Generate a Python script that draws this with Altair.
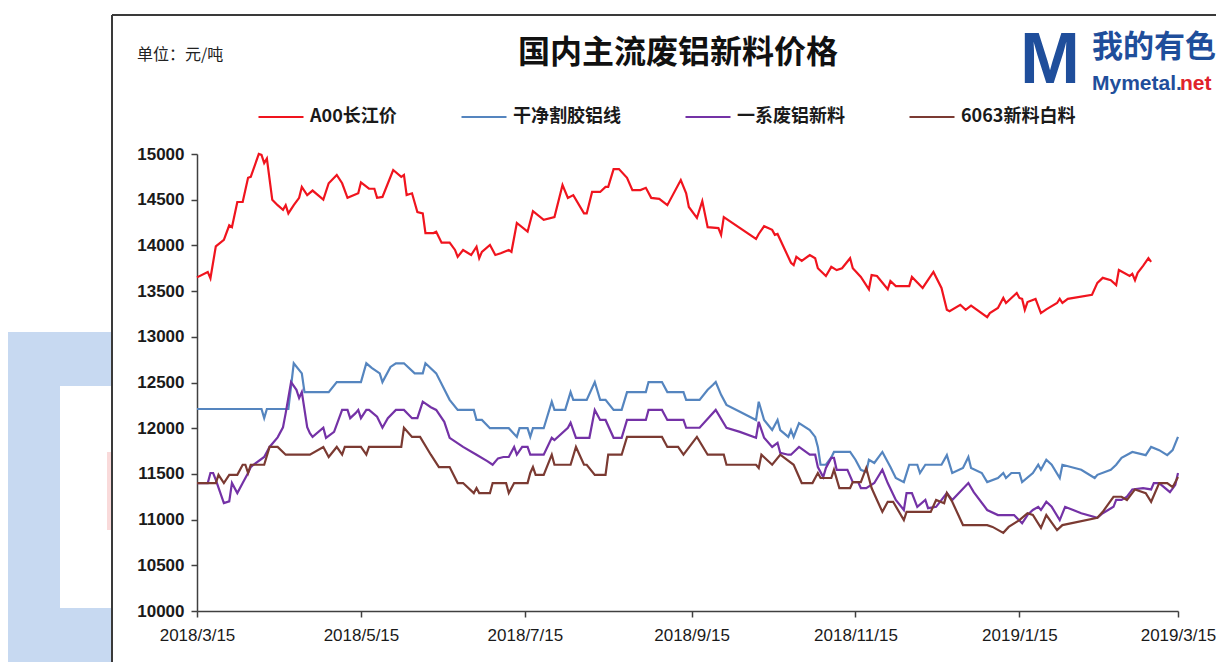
import altair as alt
import pandas as pd

# ---------------- data ----------------
series_names = ["A00长江价", "干净割胶铝线", "一系废铝新料", "6063新料白料"]
series_colors = ["#F0141E", "#5585BF", "#7432A6", "#7B3A32"]
start_date = "2018-03-15"
end_date = "2019-03-15"
x_tick_dates = ["2018-03-15", "2018-05-15", "2018-07-15", "2018-09-15",
                "2018-11-15", "2019-01-15", "2019-03-15"]
y_ticks = [10000, 10500, 11000, 11500, 12000, 12500, 13000, 13500, 14000, 14500, 15000]

# day offsets from 2018-03-15 and prices (元/吨)
a00_days = [0,4,5,7,10,12,13,15,17,19,20,23,24,25,26,28,30,32,33,34,36,38,39,41,43,47,49,52,54,56,
            60,61,64,66,67,69,73,76,77,78,80,82,84,85,88,89,91,94,96,97,99,102,104,105,106,109,111,113,116,117,
            119,123,125,129,133,136,138,140,144,145,147,150,152,153,155,157,160,162,165,167,169,172,175,180,182,183,186,188,190,194,
            195,196,208,209,211,214,215,216,221,222,223,225,228,230,231,234,236,238,240,243,244,247,250,251,253,257,258,260,265,266,
            270,274,277,279,280,284,286,288,294,295,298,300,301,305,306,307,308,309,312,314,316,320,321,322,324,333,335,337,340,342,
            343,347,348,349,350,352,354,355]
a00_vals = [13650,13710,13640,13990,14060,14220,14200,14475,14475,14740,14750,15000,14990,14900,14950,14500,14440,14390,14440,14350,
            14440,14520,14640,14550,14600,14500,14680,14770,14680,14520,14570,14690,14620,14620,14520,14530,14825,14750,14770,14550,
            14570,14365,14350,14135,14135,14150,14030,14030,13950,13875,13950,13895,13985,13860,13930,14005,13895,13915,13950,13930,
            14245,14150,14375,14280,14310,14660,14520,14550,14350,14350,14585,14585,14640,14640,14835,14835,14740,14605,14605,14630,
            14520,14510,14440,14715,14570,14420,14300,14485,14200,14190,14115,14310,14070,14125,14210,14170,14115,14125,13810,13785,
            13875,13830,13895,13860,13750,13665,13765,13730,13750,13860,13750,13655,13520,13675,13665,13520,13610,13555,13555,13655,
            13535,13710,13535,13295,13280,13350,13295,13340,13215,13260,13315,13425,13370,13480,13425,13415,13295,13380,13415,13260,
            13300,13370,13415,13370,13415,13460,13590,13645,13620,13565,13730,13665,13690,13620,13700,13775,13860,13820]

blue_days = [0,24,25,26,34,36,39,40,49,52,61,63,65,68,69,72,74,77,81,84,85,89,94,97,103,104,106,109,116,119,
             120,123,124,125,129,132,133,137,139,140,145,148,150,152,155,158,160,167,168,173,175,181,182,187,190,192,193,195,197,202,
             208,209,211,214,216,217,220,221,222,224,228,230,231,232,234,236,237,243,245,247,249,250,252,255,258,260,263,265,268,269,
             271,277,279,281,285,287,288,292,294,298,300,301,303,306,307,311,313,314,316,318,321,322,329,334,335,340,342,344,348,353,
             355,358,361,363,365]
blue_vals = [12210,12210,12110,12210,12210,12710,12600,12395,12395,12505,12505,12710,12660,12600,12505,12670,12710,12710,12600,12600,
             12710,12600,12310,12200,12200,12090,12090,12000,12000,11905,12000,12000,11905,12000,12000,12290,12200,12200,12395,12310,
             12310,12505,12310,12310,12200,12200,12395,12395,12505,12505,12395,12395,12310,12310,12420,12475,12505,12365,12255,12180,
             12090,12290,12090,11980,12090,11980,11905,11980,11905,12055,11980,11905,11795,11600,11600,11680,11740,11740,11655,11545,
             11520,11655,11620,11740,11575,11455,11410,11600,11600,11510,11600,11600,11705,11510,11565,11685,11565,11510,11410,11455,
             11510,11455,11510,11510,11410,11510,11600,11545,11655,11600,11455,11600,11545,11455,11490,11545,11600,11675,11740,11705,
             11795,11760,11705,11760,11905]

purple_days = [0,4,5,6,7,10,12,13,15,17,19,20,21,25,27,30,32,33,35,37,38,39,41,42,43,47,48,51,54,56,
               57,59,60,61,63,64,67,69,71,74,77,80,82,84,87,89,92,94,99,104,108,110,112,114,116,118,119,121,123,124,
               129,132,133,138,139,141,146,148,150,152,155,158,160,167,168,173,175,181,182,187,193,197,202,208,209,211,214,216,217,220,
               221,224,228,230,231,233,234,236,237,238,242,244,246,247,249,252,255,257,260,263,264,266,268,271,272,275,279,281,287,289,
               294,298,304,307,309,311,313,314,316,318,321,323,329,335,337,341,342,344,346,348,352,355,356,358,362,364,365]
purple_vals = [11400,11400,11510,11510,11435,11180,11200,11400,11290,11400,11510,11575,11600,11685,11795,11900,12010,12165,12505,12420,
               12330,12395,12010,11945,11905,12005,11895,11960,12200,12200,12110,12165,12200,12110,12200,12200,12125,12005,12110,12200,
               12200,12110,12110,12290,12230,12200,12070,11895,11795,11710,11640,11600,11670,11685,11685,11795,11710,11795,11795,11710,
               11710,11895,11870,12005,12060,11895,11895,12200,12090,12090,11895,11895,12090,12090,12200,12200,12090,12090,12005,12005,
               12200,12005,11960,11895,12070,11895,11795,11840,11730,11710,11710,11795,11710,11710,11575,11465,11565,11675,11675,11545,
               11545,11410,11410,11345,11345,11400,11545,11400,11215,11105,11290,11290,11140,11215,11125,11140,11290,11215,11400,11300,
               11105,11050,11050,10960,11050,11105,11140,11105,11195,11140,10995,11140,11070,11020,11070,11140,11215,11215,11250,11330,
               11345,11330,11400,11400,11300,11380,11510]

brown_days = [0,7,8,10,12,15,17,18,19,20,25,27,30,33,42,47,49,52,54,55,61,63,64,76,77,80,83,87,90,94,
              97,99,103,104,105,109,110,115,116,118,123,124,125,126,129,132,133,139,141,144,145,148,152,153,158,160,173,175,179,181,
              186,190,196,197,208,209,210,214,217,222,225,229,231,232,236,237,239,243,244,247,249,251,253,255,257,259,263,264,273,275,
              278,279,281,285,294,296,300,302,306,309,311,314,316,320,322,335,337,341,344,346,349,353,355,358,361,363,365]
brown_vals = [11400,11400,11490,11400,11490,11490,11600,11600,11510,11600,11600,11795,11795,11710,11710,11795,11685,11795,11710,11795,
              11795,11710,11795,11795,12005,11905,11905,11710,11575,11575,11400,11400,11290,11345,11290,11290,11400,11400,11290,11400,
              11400,11510,11575,11490,11490,11710,11600,11600,11795,11600,11600,11490,11490,11710,11710,11905,11905,11795,11795,11710,
              11905,11710,11710,11600,11600,11565,11710,11600,11710,11600,11400,11400,11510,11455,11455,11545,11345,11345,11410,11410,
              11565,11345,11215,11085,11195,11195,10995,11085,11085,11215,11180,11290,11195,10940,10940,10920,10855,10920,10995,11070,
              11050,10910,11050,10885,10940,11020,11085,11250,11250,11215,11330,11290,11195,11400,11400,11355,11465]

title_text = "国内主流废铝新料价格"
unit_text = "单位：元/吨"

# ---------------- build table ----------------
rows = []
base = pd.Timestamp(start_date)
for name, days, vals in zip(series_names,
                            [a00_days, blue_days, purple_days, brown_days],
                            [a00_vals, blue_vals, purple_vals, brown_vals]):
    assert len(days) == len(vals), name
    for i, (d, v) in enumerate(zip(days, vals)):
        rows.append({"series": name, "date": (base + pd.Timedelta(days=d)).strftime("%Y-%m-%d"),
                     "price": v, "idx": i})
df = pd.DataFrame(rows)

CJK = "Noto Sans CJK SC"
NUM = "Liberation Sans Narrow, Liberation Sans, Noto Sans CJK SC"

def dt(s):
    y, m, d = [int(p) for p in s.split("-")]
    return alt.DateTime(year=y, month=m, date=d)

W, H = 981, 457

lines = alt.Chart(df).mark_line(strokeWidth=2.2, clip=False).encode(
    x=alt.X("date:T",
            scale=alt.Scale(domain=[dt(start_date), dt(end_date)]),
            axis=alt.Axis(values=[dt(s) for s in x_tick_dates], format="%Y/%-m/%-d",
                          title=None, grid=False, labelFont=NUM, labelFontSize=17, labelColor="#1a1a1a",
                          labelPadding=10, tickSize=6, labelFlush=False, labelOverlap=False,
                          domainColor="#404040", domainWidth=1.5, tickColor="#404040", tickWidth=1.5)),
    y=alt.Y("price:Q",
            scale=alt.Scale(domain=[10000, 15000], nice=False, zero=False),
            axis=alt.Axis(values=y_ticks, title=None, grid=False, labelFont=NUM, labelFontSize=17,
                          labelFontWeight="bold",
                          labelColor="#1a1a1a", labelPadding=7, tickSize=6, format="d",
                          domainColor="#404040", domainWidth=1.5, tickColor="#404040", tickWidth=1.5)),
    color=alt.Color("series:N",
                    scale=alt.Scale(domain=series_names, range=series_colors),
                    legend=alt.Legend(title=None, orient="none", legendX=60, legendY=-61,
                                      direction="horizontal", symbolType="stroke",
                                      symbolSize=2025, symbolStrokeWidth=2.2,
                                      labelFont=CJK, labelFontSize=18, labelFontWeight="bold",
                                      labelColor="#1a1a1a", labelOffset=5, columnPadding=60,
                                      labelLimit=300)),
    order="idx:Q",
)

# background decoration (watermark and frame)
deco_df = pd.DataFrame({"k": [0]})
wm_blue = alt.Chart(deco_df).mark_rect(color="#C7D9F1").encode(
    x=alt.value(-189), x2=alt.value(-85), y=alt.value(178), y2=alt.value(508))
wm_white = alt.Chart(deco_df).mark_rect(color="#FFFFFF").encode(
    x=alt.value(-137), x2=alt.value(-86), y=alt.value(232), y2=alt.value(454))
wm_pink = alt.Chart(deco_df).mark_rect(color="#F9DADA").encode(
    x=alt.value(-90), x2=alt.value(-86), y=alt.value(298), y2=alt.value(376))
frame_left = alt.Chart(deco_df).mark_rule(color="#3a3a3a", strokeWidth=2).encode(
    x=alt.value(-85), y=alt.value(-139), y2=alt.value(510))
frame_top = alt.Chart(deco_df).mark_rule(color="#3a3a3a", strokeWidth=2).encode(
    x=alt.value(-85), x2=alt.value(1030), y=alt.value(-139))

title = alt.Chart(pd.DataFrame({"t": [title_text]})).mark_text(
    font=CJK, fontSize=32, fontWeight="bold", color="#111111", align="center", baseline="middle"
).encode(x=alt.value(481), y=alt.value(-101), text="t:N")

unit = alt.Chart(pd.DataFrame({"t": [unit_text]})).mark_text(
    font=CJK, fontSize=16, color="#222222", align="left", baseline="middle"
).encode(x=alt.value(-60), y=alt.value(-99), text="t:N")

logo_m = alt.Chart(pd.DataFrame({"t": ["M"]})).mark_text(
    font="Liberation Sans Narrow, Liberation Sans", fontSize=72, fontWeight="bold",
    color="#1F4E9B", align="center", baseline="middle"
).encode(x=alt.value(853), y=alt.value(-93), text="t:N")
logo_cn = alt.Chart(pd.DataFrame({"t": ["我的有色"]})).mark_text(
    font=CJK, fontSize=31, fontWeight="bold", color="#1F4E9B", align="left", baseline="middle"
).encode(x=alt.value(895), y=alt.value(-106), text="t:N")
logo_en1 = alt.Chart(pd.DataFrame({"t": ["Mymetal."]})).mark_text(
    font="Liberation Sans Narrow, Liberation Sans", fontSize=21, fontWeight="bold",
    color="#1F4E9B", align="left", baseline="middle"
).encode(x=alt.value(895), y=alt.value(-70), text="t:N")
logo_en2 = alt.Chart(pd.DataFrame({"t": ["net"]})).mark_text(
    font="Liberation Sans Narrow, Liberation Sans", fontSize=21, fontWeight="bold",
    color="#E0232B", align="left", baseline="middle"
).encode(x=alt.value(983), y=alt.value(-70), text="t:N")

chart = alt.layer(
    wm_blue, wm_white, wm_pink, frame_left, frame_top,
    lines, title, unit, logo_m, logo_cn, logo_en1, logo_en2
).properties(
    width=W, height=H,
    autosize=alt.AutoSizeParams(type="none"),
    padding={"left": 189, "top": 146, "right": 38, "bottom": 51},
    background="white",
).configure_view(stroke=None)

chart.save("out.html", embed_options={"renderer": "svg", "actions": False})
